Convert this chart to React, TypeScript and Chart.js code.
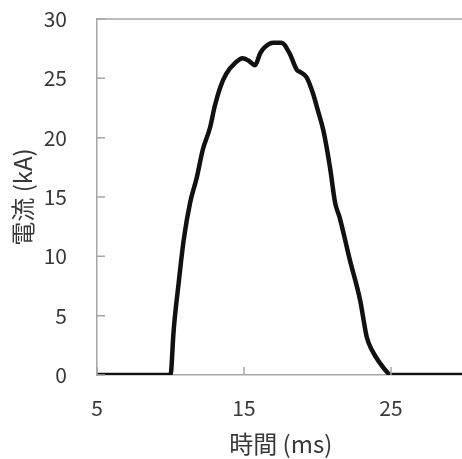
import React, { useEffect, useRef } from "react";
import { Chart, registerables } from "chart.js";

Chart.register(...registerables);

const timeMs = [
  5, 10.0, 10.05, 10.2, 10.55, 10.9, 11.33, 11.78, 12.2, 12.7, 13.0, 13.4, 13.8, 14.4, 14.9,
  15.3, 15.75, 16.1, 16.4, 17.0, 17.55, 18.1, 18.6, 18.8, 19.25, 19.7, 20.0, 20.4, 20.85,
  21.2, 21.5, 22.2, 22.9, 23.35, 23.7, 24.25, 24.8, 24.95, 30,
];
const currentKA = [
  0, 0, 0.4, 3.5, 7.7, 11.4, 14.5, 16.6, 19.0, 20.9, 22.6, 24.3, 25.4, 26.3, 26.7,
  26.5, 26.1, 27.1, 27.6, 28.0, 28.0, 27.1, 25.7, 25.55, 25.1, 23.7, 22.4, 20.6, 17.5,
  14.5, 13.3, 9.7, 6.3, 3.2, 2.1, 1.0, 0.15, 0, 0,
];
const xTicks = [5, 15, 25];
const yTicks = [0, 5, 10, 15, 20, 25, 30];
const xTitle = "時間 (ms)";
const yTitle = "電流 (kA)";

const AXIS_GRAY = "#a6a6a6";
const TEXT = "#383838";
const FONT = "'Noto Sans CJK JP', 'Noto Sans', sans-serif";

const innerTicks = {
  id: "innerTicks",
  afterDatasetsDraw(chart: any) {
    const { ctx, chartArea, scales } = chart;
    ctx.save();
    ctx.strokeStyle = AXIS_GRAY;
    ctx.lineWidth = 1.5;
    ctx.beginPath();
    ctx.moveTo(chartArea.left, chartArea.top);
    ctx.lineTo(chartArea.right, chartArea.top);
    ctx.stroke();
    ctx.beginPath();
    for (const v of yTicks) {
      const y = scales.y.getPixelForValue(v);
      ctx.moveTo(chartArea.left, y);
      ctx.lineTo(chartArea.left + 8, y);
    }
    for (const v of xTicks) {
      const x = scales.x.getPixelForValue(v);
      ctx.moveTo(x, chartArea.bottom);
      ctx.lineTo(x, chartArea.bottom - 8);
    }
    ctx.stroke();
    ctx.restore();
  },
};

export default function App() {
  const ref = useRef<HTMLCanvasElement>(null);
  useEffect(() => {
    if (!ref.current) return;
    const chart = new Chart(ref.current, {
      type: "line",
      data: {
        datasets: [
          {
            data: timeMs.map((t, i) => ({ x: t, y: currentKA[i] })),
            borderColor: "#111111",
            borderWidth: 4.5,
            pointRadius: 0,
            cubicInterpolationMode: "monotone",
            fill: false,
          },
        ],
      },
      options: {
        animation: false,
        responsive: false,
        devicePixelRatio: 1,
        layout: { padding: { top: 19, right: 2.5, left: 0, bottom: 0 } },
        plugins: { legend: { display: false }, tooltip: { enabled: false } },
        scales: {
          x: {
            type: "linear",
            min: 5,
            max: 30,
            grid: { display: false },
            border: { display: true, color: AXIS_GRAY, width: 1.5 },
            afterBuildTicks: (s: any) => {
              s.ticks = xTicks.map((v) => ({ value: v }));
            },
            afterFit: (s: any) => {
              s.height = 84;
              s.paddingLeft = 0;
              s.paddingRight = 0;
              s.paddingTop = 0;
              s.paddingBottom = 0;
            },
            ticks: {
              color: TEXT,
              font: { family: FONT, size: 21 },
              padding: 12,
              maxRotation: 0,
              autoSkip: false,
            },
            title: {
              display: true,
              text: xTitle,
              color: TEXT,
              font: { family: FONT, size: 24 },
              padding: { top: 0, bottom: 1 },
            },
          },
          y: {
            type: "linear",
            min: 0,
            max: 30,
            grid: { display: false },
            border: { display: true, color: AXIS_GRAY, width: 1.5 },
            afterBuildTicks: (s: any) => {
              s.ticks = yTicks.map((v) => ({ value: v }));
            },
            afterFit: (s: any) => {
              s.width = 97;
              s.paddingTop = 0;
              s.paddingBottom = 0;
              s.paddingLeft = 0;
              s.paddingRight = 0;
            },
            ticks: {
              color: TEXT,
              font: { family: FONT, size: 21 },
              padding: 22,
            },
            title: {
              display: true,
              text: yTitle,
              color: TEXT,
              font: { family: FONT, size: 24 },
              padding: { top: 8, bottom: 0 },
            },
          },
        },
      },
      plugins: [innerTicks],
    } as any);
    return () => chart.destroy();
  }, []);
  return (
    <div
      style={{
        position: "absolute",
        left: 0,
        top: 0,
        width: 462,
        height: 459,
        overflow: "hidden",
        background: "#ffffff",
      }}
    >
      <canvas ref={ref} width={467} height={459} style={{ width: 467, height: 459, display: "block" }} />
    </div>
  );
}
